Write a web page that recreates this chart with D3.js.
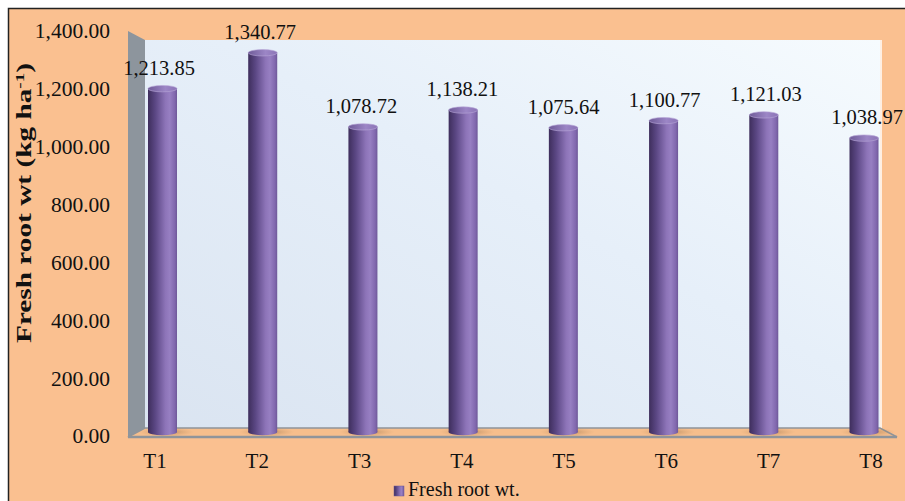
<!DOCTYPE html>
<html>
<head>
<meta charset="utf-8">
<script src="https://cdn.jsdelivr.net/npm/d3@7"></script>
<style>
  html, body { margin: 0; padding: 0; background: #ffffff; }
  svg { display: block; }
  text { font-family: "Liberation Serif", "Times New Roman", serif; fill: #111; }
</style>
</head>
<body>
<svg id="chart" width="905" height="501"></svg>
<script>
// Fresh root weight per treatment (kg ha-1)
const categories = ["T1", "T2", "T3", "T4", "T5", "T6", "T7", "T8"];
const freshRootWt = [1213.85, 1340.77, 1078.72, 1138.21, 1075.64, 1100.77, 1121.03, 1038.97];
const yTicks = [0, 200, 400, 600, 800, 1000, 1200, 1400];
const seriesName = "Fresh root wt.";
const yTitle = "Fresh root wt (kg ha";

const svg = d3.select("#chart");
const defs = svg.append("defs");

// chart area
svg.append("rect").attr("x", 8.5).attr("y", 8.5).attr("width", 920).attr("height", 520)
  .attr("fill", "#FAC090").attr("stroke", "#222").attr("stroke-width", 1.5);

// geometry of the 3-D box
const front = { left: 128, right: 897, bottom: 437, top: 31 };
const back = { left: 145, right: 880, bottom: 428, top: 40 };

// gradients
const wallGrad = defs.append("linearGradient").attr("id", "wall")
  .attr("x1", "0").attr("y1", "1").attr("x2", "1").attr("y2", "0");
wallGrad.append("stop").attr("offset", "0").attr("stop-color", "#DAE4F1");
wallGrad.append("stop").attr("offset", "0.55").attr("stop-color", "#E6EFF9");
wallGrad.append("stop").attr("offset", "1").attr("stop-color", "#F6FBFE");

const cyl = defs.append("linearGradient").attr("id", "cyl")
  .attr("x1", "0").attr("y1", "0").attr("x2", "1").attr("y2", "0");
[["0", "#3E2E5C"], ["0.25", "#5B4784"], ["0.6", "#8D74B8"], ["0.75", "#977FC2"], ["0.92", "#8168AE"], ["1", "#6E5898"]]
  .forEach(([o, c]) => cyl.append("stop").attr("offset", o).attr("stop-color", c));

const topGrad = defs.append("linearGradient").attr("id", "cyltop")
  .attr("x1", "0").attr("y1", "0").attr("x2", "1").attr("y2", "0");
[["0", "#6F5B98"], ["0.6", "#9C86C6"], ["1", "#8B74B6"]]
  .forEach(([o, c]) => topGrad.append("stop").attr("offset", o).attr("stop-color", c));

const shadow = defs.append("radialGradient").attr("id", "shadow");
shadow.append("stop").attr("offset", "0").attr("stop-color", "#7a5a3a").attr("stop-opacity", 0.55);
shadow.append("stop").attr("offset", "1").attr("stop-color", "#b88a5a").attr("stop-opacity", 0);

// back wall
svg.append("rect").attr("x", back.left).attr("y", back.top)
  .attr("width", back.right - back.left).attr("height", back.bottom - back.top)
  .attr("fill", "url(#wall)");
svg.append("line").attr("x1", back.right + 1).attr("x2", back.right + 1)
  .attr("y1", back.top).attr("y2", back.bottom).attr("stroke", "#ffffff").attr("stroke-width", 1.5);

// side wall
svg.append("polygon")
  .attr("points", [[front.left, front.top], [back.left, back.top], [back.left, back.bottom], [front.left, front.bottom]].join(" "))
  .attr("fill", "#8D959D");

// floor
svg.append("polygon")
  .attr("points", [[front.left, front.bottom], [back.left, back.bottom], [back.right, back.bottom], [front.right, front.bottom]].join(" "))
  .attr("fill", "#F6BE8C").attr("stroke", "#8F949A").attr("stroke-width", 1.5);
svg.append("line").attr("x1", front.left).attr("x2", front.right)
  .attr("y1", front.bottom).attr("y2", front.bottom).attr("stroke", "#8F949A").attr("stroke-width", 2.5);

// scales
const yFront = d3.scaleLinear().domain([0, 1400]).range([front.bottom - 1, front.top]);
const yBar = d3.scaleLinear().domain([0, 1400]).range([432, 36]);
const xBar = d3.scalePoint().domain(categories).range([162.5, 864]);
const xCat = d3.scalePoint().domain(categories).range([155, 871]);
const xVal = d3.scalePoint().domain(categories).range([159, 867]);
const barW = 29, ry = 3.2;

// y axis labels
const yAxis = d3.axisLeft(yFront).tickValues(yTicks).tickSize(0).tickPadding(0)
  .tickFormat(d3.format(",.2f"));
const gy = svg.append("g").attr("transform", "translate(110,0)").call(yAxis);
gy.select(".domain").remove();
gy.selectAll("text").attr("font-size", 21.5).attr("fill", "#111")
  .style("font-family", '"Liberation Serif", "Times New Roman", serif');

// y axis title (stretched along its length)
const title = svg.append("text")
  .attr("transform", "translate(31,203) rotate(-90)")
  .attr("text-anchor", "middle").attr("font-size", 20).attr("font-weight", "bold")
  .attr("textLength", 280).attr("lengthAdjust", "spacingAndGlyphs");
title.append("tspan").text(yTitle);
title.append("tspan").attr("dy", -7).attr("font-size", 13).text("-1");
title.append("tspan").attr("dy", 7).text(")");

// cylinders
const bars = svg.append("g").selectAll("g").data(categories).join("g");
bars.append("ellipse")
  .attr("cx", d => xBar(d) + 4).attr("cy", 432).attr("rx", barW * 0.95).attr("ry", 4.5)
  .attr("fill", "url(#shadow)");
bars.append("ellipse")
  .attr("cx", d => xBar(d)).attr("cy", yBar(0)).attr("rx", barW / 2).attr("ry", ry)
  .attr("fill", "url(#cyl)");
bars.append("rect")
  .attr("x", d => xBar(d) - barW / 2)
  .attr("y", (d, i) => yBar(freshRootWt[i]))
  .attr("width", barW)
  .attr("height", (d, i) => yBar(0) - yBar(freshRootWt[i]))
  .attr("fill", "url(#cyl)");
bars.append("ellipse")
  .attr("cx", d => xBar(d)).attr("cy", (d, i) => yBar(freshRootWt[i]))
  .attr("rx", barW / 2).attr("ry", ry)
  .attr("fill", "url(#cyltop)").attr("stroke", "#B7A6D6").attr("stroke-width", 0.6);

// value labels
svg.append("g").selectAll("text").data(categories).join("text")
  .attr("x", d => xVal(d))
  .attr("y", (d, i) => yBar(freshRootWt[i]) - 14)
  .attr("text-anchor", "middle").attr("font-size", 20.5)
  .text((d, i) => d3.format(",.2f")(freshRootWt[i]));

// category labels
svg.append("g").selectAll("text").data(categories).join("text")
  .attr("x", d => xCat(d)).attr("y", 468)
  .attr("text-anchor", "middle").attr("font-size", 21)
  .text(d => d);

// legend
const lg = svg.append("g");
lg.append("rect").attr("x", 394).attr("y", 486).attr("width", 10).attr("height", 10)
  .attr("fill", "url(#cyl)").attr("stroke", "#6E5898").attr("stroke-width", 0.5);
lg.append("text").attr("x", 408).attr("y", 496).attr("font-size", 20).text(seriesName);
</script>
</body>
</html>
